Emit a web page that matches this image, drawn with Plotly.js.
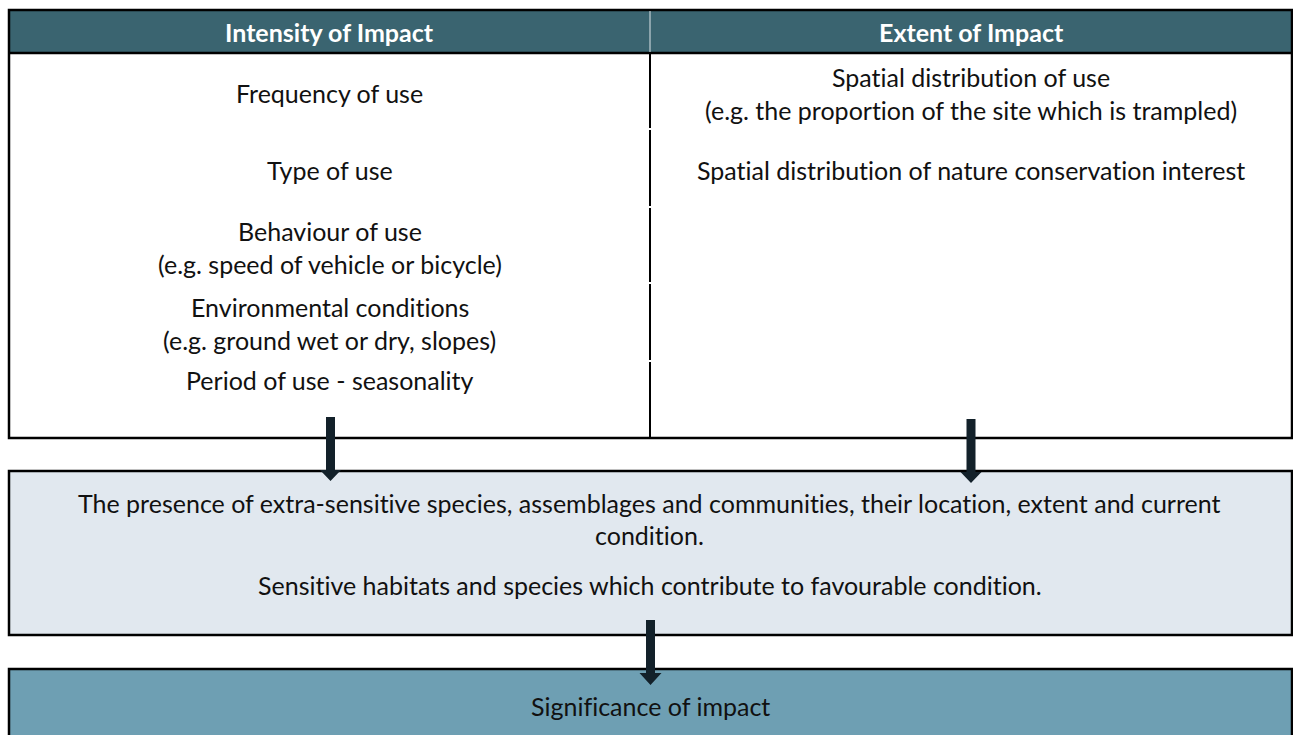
<!DOCTYPE html>
<html>
<head>
<meta charset="utf-8">
<script src="https://cdn.plot.ly/plotly-3.0.1.min.js"></script>
<style>
  html, body { margin: 0; padding: 0; background: #ffffff; }
  #chart { width: 1293px; height: 735px; }
  svg text { font-variant-ligatures: none; font-feature-settings: "liga" 0, "clig" 0; }
</style>
</head>
<body>
<div id="chart"></div>
<script>
// ---- content ----
const headers = ["Intensity of Impact", "Extent of Impact"];
const intensityItems = [
  "Frequency of use",
  "Type of use",
  "Behaviour of use",
  "(e.g. speed of vehicle or bicycle)",
  "Environmental conditions",
  "(e.g. ground wet or dry, slopes)",
  "Period of use - seasonality"
];
const extentItems = [
  "Spatial distribution of use",
  "(e.g. the proportion of the site which is trampled)",
  "Spatial distribution of nature conservation interest"
];
const receptorLines = [
  "The presence of extra-sensitive species, assemblages and communities, their location, extent and current",
  "condition.",
  "Sensitive habitats and species which contribute to favourable condition."
];
const outcomeLines = ["Significance of impact"];

// ---- layout geometry (pixels, y downwards) ----
const W = 1293, H = 735;
const L = 9, R = 1292, MID = 650;
const tableTop = 10, headBottom = 53, tableBottom = 438;
const midTop = 471, midBottom = 635;
const botTop = 669, botBottom = 760;
const colCenters = [(L + MID) / 2, (MID + R) / 2];
const intensityY = [93, 170, 231, 264, 307, 340, 380];
const extentY = [77, 110, 170];
const receptorY = [503, 535, 585];
const outcomeY = [706];
const dividerGaps = [129, 207, 283, 361];
const arrows = [
  {x: 330.5, top: 417, headTop: 470, tip: 481, shaft: 9, head: 21},
  {x: 971, top: 419, headTop: 472, tip: 483, shaft: 9, head: 21},
  {x: 650.5, top: 620, headTop: 673, tip: 685, shaft: 9, head: 22}
];

const COL_HEAD = "#3a6470", COL_MIDBOX = "#e1e8ef", COL_BOT = "#6e9fb3", COL_ARROW = "#13212a";
const FONT = "Lato, 'Open Sans', sans-serif";
const FS = 25;

const shapes = [];
shapes.push({type: "rect", x0: L, x1: R, y0: tableTop, y1: headBottom, fillcolor: COL_HEAD, line: {width: 0}, layer: "below"});
shapes.push({type: "rect", x0: L, x1: R, y0: headBottom, y1: tableBottom, fillcolor: "#ffffff", line: {width: 0}, layer: "below"});
shapes.push({type: "rect", x0: L, x1: R, y0: tableTop, y1: tableBottom, line: {color: "#000", width: 2.5}});
shapes.push({type: "line", x0: L, x1: R, y0: headBottom, y1: headBottom, line: {color: "#000", width: 2.5}});
shapes.push({type: "line", x0: MID, x1: MID, y0: tableTop + 1, y1: headBottom - 1, line: {color: "#dce4e8", width: 1}});
let segStart = headBottom;
dividerGaps.concat([tableBottom + 1]).forEach(function (g) {
  shapes.push({type: "line", x0: MID, x1: MID, y0: segStart, y1: g - 1, line: {color: "#000", width: 2}});
  segStart = g + 1;
});
shapes.push({type: "rect", x0: L, x1: R, y0: midTop, y1: midBottom, fillcolor: COL_MIDBOX, line: {color: "#000", width: 2.5}, layer: "below"});
shapes.push({type: "rect", x0: L, x1: R, y0: botTop, y1: botBottom, fillcolor: COL_BOT, line: {color: "#000", width: 2.5}, layer: "below"});
arrows.forEach(function (a) {
  const s = a.shaft / 2, h = a.head / 2;
  shapes.push({
    type: "path",
    path: "M " + (a.x - s) + "," + a.top + " L " + (a.x + s) + "," + a.top +
          " L " + (a.x + s) + "," + a.headTop + " L " + (a.x + h) + "," + a.headTop +
          " L " + a.x + "," + a.tip + " L " + (a.x - h) + "," + a.headTop +
          " L " + (a.x - s) + "," + a.headTop + " Z",
    fillcolor: COL_ARROW, line: {width: 0}, layer: "above"
  });
});

const annotations = [];
function addText(text, x, y, opts) {
  annotations.push(Object.assign({
    text: text, x: x, y: y, xref: "x", yref: "y", showarrow: false,
    xanchor: "center", yanchor: "middle",
    font: {family: FONT, size: FS, color: "#111111"}
  }, opts || {}));
}
headers.forEach(function (t, i) {
  addText("<b>" + t + "</b>", colCenters[i], 32, {font: {family: FONT, size: FS, color: "#ffffff"}});
});
intensityItems.forEach(function (t, i) { addText(t, colCenters[0], intensityY[i]); });
extentItems.forEach(function (t, i) { addText(t, colCenters[1], extentY[i]); });
receptorLines.forEach(function (t, i) { addText(t, W / 2 + 3, receptorY[i]); });
outcomeLines.forEach(function (t, i) { addText(t, MID, outcomeY[i]); });

const layout = {
  width: W, height: H,
  margin: {l: 0, r: 0, t: 0, b: 0, pad: 0},
  paper_bgcolor: "#ffffff", plot_bgcolor: "#ffffff",
  xaxis: {range: [0, W], visible: false, fixedrange: true},
  yaxis: {range: [H, 0], visible: false, fixedrange: true},
  showlegend: false,
  shapes: shapes,
  annotations: annotations
};

Plotly.newPlot("chart", [], layout, {displayModeBar: false, staticPlot: true});
</script>
</body>
</html>
